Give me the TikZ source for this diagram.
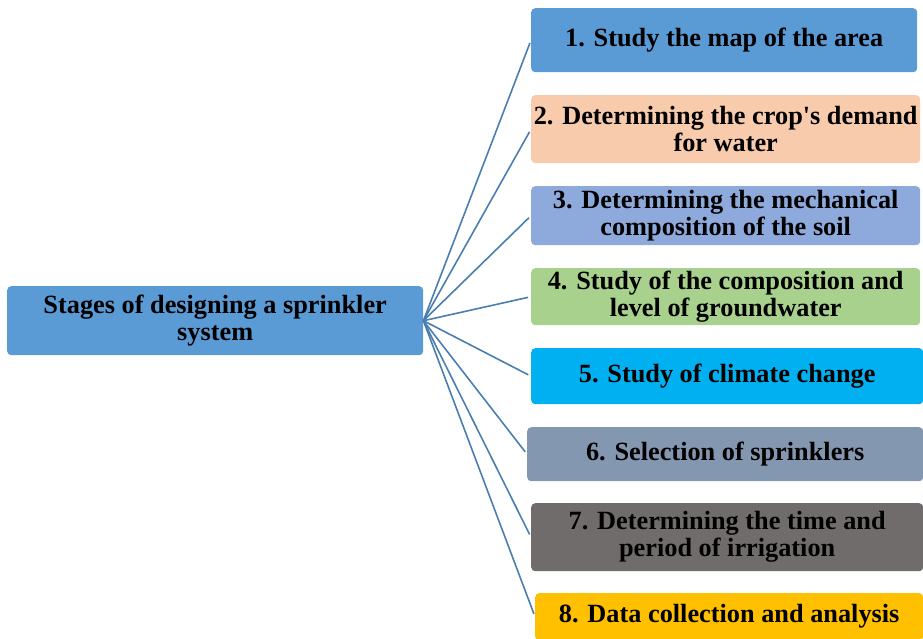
\documentclass[tikz,border=0pt]{standalone}
\usepackage{fontspec}
\setmainfont{Liberation Serif}
\usepackage{tikz}
\definecolor{rootBlue}{HTML}{5B9BD5}
\definecolor{mapBlue}{HTML}{5B9BD5}
\definecolor{cropPeach}{HTML}{F8CBAD}
\definecolor{soilBlue}{HTML}{8EA9DB}
\definecolor{waterGreen}{HTML}{A9D18E}
\definecolor{climateCyan}{HTML}{00B0F0}
\definecolor{sprinklerGrey}{HTML}{8497B0}
\definecolor{timeGrey}{HTML}{716C6C}
\definecolor{dataGold}{HTML}{FFC000}
\definecolor{edgeBlue}{HTML}{4A7EB0}

\begin{document}
\begin{tikzpicture}[x=1pt, y=-1pt, shorten >=3pt,
        every node/.style={font=\bfseries\fontsize{26.3}{27}\selectfont}]
        \tikzstyle{stageBox} = [rounded corners=4pt, align=center, inner sep=0pt,
                                anchor=north west]
        \tikzstyle{blueEdge} = [draw=edgeBlue, line width=1.6pt]
        \useasboundingbox (0,0) rectangle (923,638);
        \node[stageBox, fill=rootBlue, minimum width=416, minimum height=69] (0) at (7,286)
            {Stages of designing a sprinkler\\system};
        \node[stageBox, fill=mapBlue, minimum width=386, minimum height=64] (1) at (531,8)
            {1. Study the map of the area};
        \node[stageBox, fill=cropPeach, minimum width=389, minimum height=68] (2) at (531,95)
            {2. Determining the crop\textquotesingle s demand\\for water};
        \node[stageBox, fill=soilBlue, minimum width=389, minimum height=59] (3) at (531,186)
            {3. Determining the mechanical\\composition of the soil};
        \node[stageBox, fill=waterGreen, minimum width=389, minimum height=57] (4) at (531,268)
            {4. Study of the composition and\\level of groundwater};
        \node[stageBox, fill=climateCyan, minimum width=392, minimum height=56] (5) at (531,348)
            {5. Study of climate change};
        \node[stageBox, fill=sprinklerGrey, minimum width=396, minimum height=54] (6) at (527,427)
            {6. Selection of sprinklers};
        \node[stageBox, fill=timeGrey, minimum width=392, minimum height=68] (7) at (531,503)
            {7. Determining the time and\\period of irrigation};
        \node[stageBox, fill=dataGold, minimum width=388, minimum height=47] (8) at (535,593)
            {8. Data collection and analysis};
        \foreach \to in {1,...,8}
            \path[blueEdge] (0.east) edge (\to.west);
    \end{tikzpicture}
\end{document}
